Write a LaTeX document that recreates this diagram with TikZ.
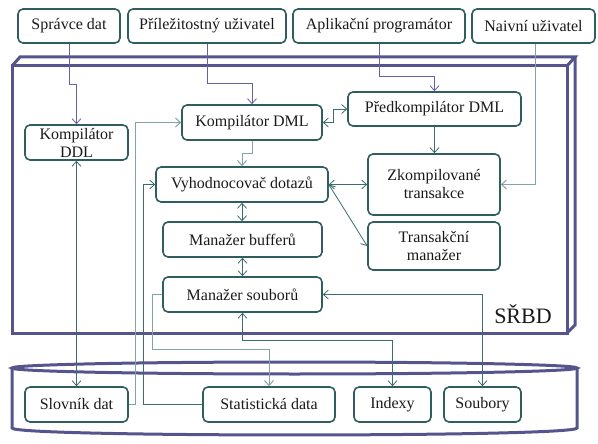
\documentclass[tikz,border=0pt]{standalone}
\usepackage{fontspec}
\setmainfont{Liberation Serif}
\usetikzlibrary{arrows.meta}
\definecolor{frm}{RGB}{86,84,140}
\definecolor{boxc}{RGB}{48,94,94}
\definecolor{pur}{RGB}{100,98,165}
\definecolor{tl}{RGB}{60,108,108}
\definecolor{ltl}{RGB}{130,164,164}
\definecolor{txt}{RGB}{25,25,25}
\tikzset{
  box/.style={draw=boxc, line width=1.6pt, rounded corners=5pt, inner sep=0pt,
    align=center, text=txt, font=\fontsize{16}{18}\selectfont},
  frame/.style={draw=frm, line width=3pt, line join=miter},
  conp/.style={draw=pur, line width=0.8pt, -{Straight Barb[length=5pt,width=9pt]}},
  cont/.style={draw=tl, line width=0.8pt, -{Straight Barb[length=5pt,width=9pt]}},
  conl/.style={draw=ltl, line width=1pt, -{Straight Barb[length=5pt,width=9pt]}},
  bi/.style={{Straight Barb[length=5pt,width=9pt]}-{Straight Barb[length=5pt,width=9pt]}},
}
\begin{document}
\begin{tikzpicture}[x=1pt,y=-1pt]
\useasboundingbox (0,0) rectangle (598,444);
% SRBD 3D frame
\draw[frame] (12,66) rectangle (567,333);
\draw[frame] (12,66) -- (20,57) -- (575,57) -- (567,66);
\draw[frame] (575,57) -- (575,325) -- (567,333);
\node[font=\fontsize{22}{24}\selectfont, text=txt] (srbd) at (523,314) {SŘBD};
% cylinder
\draw[frame] (294.5,368) ellipse [x radius=282.5pt, y radius=6pt];
\draw[frame] (12,368) -- (12,428) .. controls (12,437.3) and (577,437.3) .. (577,428) -- (577,368);
% top boxes
\node[box, minimum width=102pt, minimum height=34pt] (sd) at (69,26) {Správce dat};
\node[box, minimum width=158pt, minimum height=34pt] (pu) at (207,26) {Příležitostný uživatel};
\node[box, minimum width=172pt, minimum height=34pt] (ap) at (379,26) {Aplikační programátor};
\node[box, minimum width=123pt, minimum height=34pt] (nu) at (533.5,26) {Naivní uživatel};
% inner boxes
\node[box, minimum width=103pt, minimum height=35pt] (ddl) at (76.5,142.5) {Kompilátor\\DDL};
\node[box, minimum width=140pt, minimum height=35pt] (dml) at (252,122.5) {Kompilátor DML};
\node[box, minimum width=173pt, minimum height=34pt] (pre) at (434.5,109) {Předkompilátor DML};
\node[box, minimum width=172pt, minimum height=35pt] (vyh) at (242,184.5) {Vyhodnocovač dotazů};
\node[box, minimum width=132pt, minimum height=61pt] (zk) at (434,184.5) {Zkompilované\\transakce};
\node[box, minimum width=132pt, minimum height=48pt] (tm) at (434,246) {Transakční\\manažer};
\node[box, minimum width=159pt, minimum height=35pt] (mb) at (242.5,239.5) {Manažer bufferů};
\node[box, minimum width=159pt, minimum height=35pt] (ms) at (242.5,294.5) {Manažer souborů};
% storage boxes
\node[box, minimum width=103pt, minimum height=35pt] (sl) at (76.5,404.5) {Slovník dat};
\node[box, minimum width=132pt, minimum height=35pt] (st) at (269,404.5) {Statistická data};
\node[box, minimum width=77pt, minimum height=35pt] (ix) at (392.5,404.5) {Indexy};
\node[box, minimum width=77pt, minimum height=35pt] (sb) at (482.5,404.5) {Soubory};
% user connectors
\draw[conp] (sd.south) -- ++(0,41) -| (ddl.north);
\draw[conp] (pu.south) -- ++(0,40) -| (dml.north);
\draw[conp] (ap.south) -- ++(0,33) -| (pre.north);
\draw[conl] ([xshift=1.5pt]nu.south) |- (zk.east);
% internal connectors
\draw[cont, bi] (dml.east) -- ++(11,0) |- (pre.west);
\draw[cont] (pre.south) -- (pre.south |- zk.north);
\draw[conl] (dml.south) -- ++(0,13) -| (vyh.north);
\draw[cont, bi] (vyh.east) -- (zk.west);
\draw[cont, bi] (vyh.east) -- (tm.west);
\draw[cont, bi] (vyh.south) -- (vyh.south |- mb.north);
\draw[cont, bi] (ms.north |- mb.south) -- (ms.north);
\draw[cont, bi] (ddl.south) -- (sl.north);
\draw[conl] (sl.east) -- ++(7,0) |- (dml.west);
\draw[cont] (st.west) -- ++(-59,0) |- (vyh.west);
\draw[conl] (ms.west) -- ++(-10,0) -- ++(0,54.5) -| (st.north);
\draw[cont, bi] (ms.south) -- ++(0,28) -| (ix.north);
\draw[cont, bi] (ms.east) -| (sb.north);
\end{tikzpicture}
\end{document}
